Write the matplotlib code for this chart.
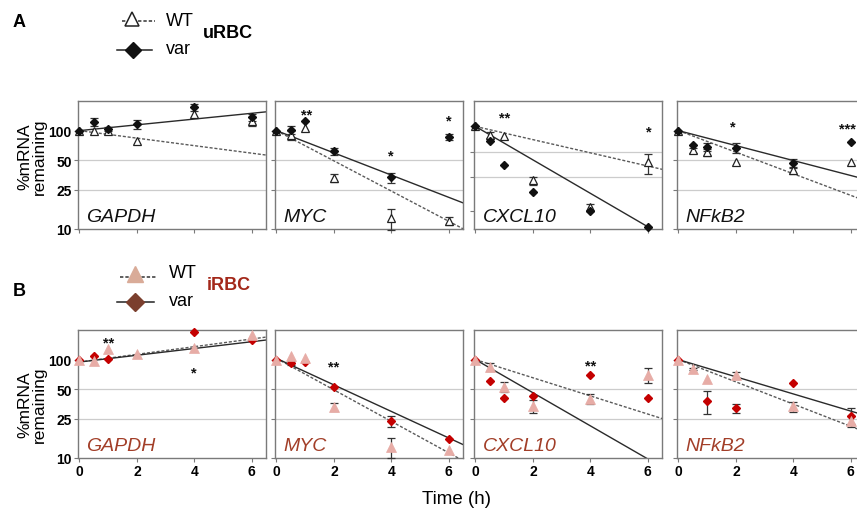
import numpy as np
import matplotlib
matplotlib.use("Agg")
import matplotlib.pyplot as plt
from matplotlib.lines import Line2D
from matplotlib.ticker import NullLocator
from matplotlib import transforms as mtrans

plt.rcParams['font.family'] = ['Liberation Sans', 'DejaVu Sans']

W, H = 857, 510

# ------------------------------------------------------------------ data
genes = ["GAPDH", "MYC", "CXCL10", "NFkB2"]
time_h = [0, 0.5, 1, 2, 4, 6]
x_ticks = [0, 2, 4, 6]
y_ticks = [10, 25, 50, 100]
y_tick_labels = ["10", "25", "50", "100"]
grid_levels = [25, 50]

# ---- A : uRBC  (% mRNA remaining)
u_gapdh_wt = [100, 100, 98, 79, 148, 124]
u_gapdh_wt_err = [0, 0, 0, 0, 0, 12]
u_gapdh_var = [100, 123, 103, 117, 174, 137]
u_gapdh_var_err = [0, 11, 5, 12, 14, 12]

u_myc_wt = [100, 90, 106, 33, 12.8, 12.1]
u_myc_wt_err = [0, 10, 0, 3, 3, 1]
u_myc_var = [100, 102, 126, 62, 33.5, 87]
u_myc_var_err = [0, 10, 0, 5, 4, 6]

u_cxcl10_wt = [100, 79, 77, 23, 11, 37.6]
u_cxcl10_wt_err = [0, 7, 0, 2.5, 1, 10]
u_cxcl10_var = [100, 68, 35, 16.6, 9.9, 6.5]
u_cxcl10_var_err = [0, 0, 0, 0, 0, 0]

u_nfkb2_wt = [100, 63, 60, 48, 39.5, 48]
u_nfkb2_wt_err = [0, 4, 5, 0, 3, 0]
u_nfkb2_var = [100, 72, 68.5, 67, 47, 77]
u_nfkb2_var_err = [0, 0, 6, 8, 5, 0]

# fitted decay lines: value at 0 h and at 6 h, per gene
u_fit_wt_0h = [100, 100, 100, 100]
u_fit_wt_6h = [59, 12, 34, 22]
u_fit_var_0h = [100, 100, 100, 100]
u_fit_var_6h = [150, 21, 6.5, 35]
u_ylim_low = [10, 10, 6.1, 10]

u_gapdh_stars = []
u_myc_stars = [(1.05, 160, "**"), (4, 61, "*"), (6, 137, "*")]
u_cxcl10_stars = [(1.0, 142, "**"), (6.05, 97, "*")]
u_nfkb2_stars = [(1.9, 120, "*"), (5.9, 115, "***")]

# ---- B : iRBC
i_gapdh_wt = [100, 96, 127, 115, 132, 178]
i_gapdh_wt_err = [0, 0, 0, 0, 0, 0]
i_gapdh_var = [100, 110, 101, np.nan, 191, 158]
i_gapdh_var_err = [0, 0, 0, 0, 0, 0]

i_myc_wt = [100, 108, 105, 33, 13, 12.1]
i_myc_wt_err = [0, 0, 0, 3, 3, 0]
i_myc_var = [100, 92, 94, 53, 23.7, 15.7]
i_myc_var_err = [0, 4, 0, 0, 3, 0]

i_cxcl10_wt = [100, 85, 53, 34, 40, 70]
i_cxcl10_wt_err = [0, 8, 6, 5, 5, 12]
i_cxcl10_var = [100, 61, 41, 42.5, 70, 41]
i_cxcl10_var_err = [0, 0, 0, 0, 0, 0]

i_nfkb2_wt = [100, 80, 63, 69, 33.5, 23.6]
i_nfkb2_wt_err = [0, 2, 0, 6, 4, 3]
i_nfkb2_var = [100, np.nan, 38, 32, 58, 27]
i_nfkb2_var_err = [0, 0, 10, 3, 0, 5]

i_fit_wt_0h = [94.5, 103, 100, 100]
i_fit_wt_6h = [162, 11.3, 28, 21]
i_fit_var_0h = [94.5, 103, 100, 100]
i_fit_var_6h = [152, 16, 9.8, 30]
i_ylim_low = [10, 10, 10, 10]

i_gapdh_stars = [(1.0, 163, "**"), (4, 80, "*")]
i_myc_stars = [(2.0, 92, "**")]
i_cxcl10_stars = [(4.0, 94, "**")]
i_nfkb2_stars = []

# ------------------------------------------------------------------ build tables
rows = [
    dict(wt=[u_gapdh_wt, u_myc_wt, u_cxcl10_wt, u_nfkb2_wt],
         wt_err=[u_gapdh_wt_err, u_myc_wt_err, u_cxcl10_wt_err, u_nfkb2_wt_err],
         var=[u_gapdh_var, u_myc_var, u_cxcl10_var, u_nfkb2_var],
         var_err=[u_gapdh_var_err, u_myc_var_err, u_cxcl10_var_err, u_nfkb2_var_err],
         fw0=u_fit_wt_0h, fw6=u_fit_wt_6h, fv0=u_fit_var_0h, fv6=u_fit_var_6h,
         ylow=u_ylim_low,
         stars=[u_gapdh_stars, u_myc_stars, u_cxcl10_stars, u_nfkb2_stars]),
    dict(wt=[i_gapdh_wt, i_myc_wt, i_cxcl10_wt, i_nfkb2_wt],
         wt_err=[i_gapdh_wt_err, i_myc_wt_err, i_cxcl10_wt_err, i_nfkb2_wt_err],
         var=[i_gapdh_var, i_myc_var, i_cxcl10_var, i_nfkb2_var],
         var_err=[i_gapdh_var_err, i_myc_var_err, i_cxcl10_var_err, i_nfkb2_var_err],
         fw0=i_fit_wt_0h, fw6=i_fit_wt_6h, fv0=i_fit_var_0h, fv6=i_fit_var_6h,
         ylow=i_ylim_low,
         stars=[i_gapdh_stars, i_myc_stars, i_cxcl10_stars, i_nfkb2_stars]),
]

# ------------------------------------------------------------------ style
col_left = [78, 275, 474, 677]
ax_w = 188
row_top = [102, 331]
row_bottom = [230, 459]

A_WT = dict(marker='^', ms=6.0, mfc='white', mec='#222222', mew=0.9, ls='none')
A_VAR = dict(marker='D', ms=3.9, mfc='#111111', mec='#111111', ls='none')
B_WT = dict(marker='^', ms=7.0, mfc='#e7aca6', mec='#e7aca6', mew=0.5, ls='none')
B_VAR = dict(marker='D', ms=4.0, mfc='#c40000', mec='#c40000', ls='none')
gene_color = ['#111111', '#a23e28']
spine_col = '#7a7a7a'

fig = plt.figure(figsize=(W / 100, H / 100), dpi=100)
t_arr = np.array(time_h, dtype=float)
t_line = np.linspace(0, 6.6, 100)


def fx(x):
    return x / W


def fy(y):
    return 1 - y / H


for r, rd in enumerate(rows):
    for c, gene in enumerate(genes):
        ax = fig.add_axes([fx(col_left[c]), fy(row_bottom[r]), ax_w / W,
                           (row_bottom[r] - row_top[r]) / H])
        ax.set_yscale('log')
        ax.set_xlim(-0.05, 6.5)
        ax.set_ylim(rd['ylow'][c], 200)
        for g in grid_levels:
            ax.axhline(g, color='#cccccc', lw=0.9, zorder=0)
        for sp in ax.spines.values():
            sp.set_color(spine_col)
            sp.set_linewidth(1.0)
        ax.set_yticks(y_ticks)
        ax.yaxis.set_minor_locator(NullLocator())
        ax.set_xticks(x_ticks)
        ax.tick_params(direction='out', length=3, width=0.8, color=spine_col,
                       labelsize=10, pad=1.5)
        if c == 0:
            ax.set_yticklabels(y_tick_labels, fontweight='bold')
        else:
            ax.set_yticklabels([])
        if r == 1:
            ax.set_xticklabels([str(v) for v in x_ticks], fontweight='bold')
        else:
            ax.set_xticklabels([])

        # fitted lines
        yw = rd['fw0'][c] * (rd['fw6'][c] / rd['fw0'][c]) ** (t_line / 6)
        yv = rd['fv0'][c] * (rd['fv6'][c] / rd['fv0'][c]) ** (t_line / 6)
        ax.plot(t_line, yw, ls=(0, (2.2, 1.3)), color='#5a5a5a', lw=1.0, zorder=2)
        ax.plot(t_line, yv, ls='-', color='#2a2a2a', lw=1.0, zorder=2)

        wt = np.array(rd['wt'][c], dtype=float)
        var = np.array(rd['var'][c], dtype=float)
        for vals, errs in ((wt, rd['wt_err'][c]), (var, rd['var_err'][c])):
            e = np.array(errs, dtype=float)
            m = e > 0
            if m.any():
                ax.errorbar(t_arr[m], vals[m], yerr=e[m], fmt='none',
                            ecolor='#333333', elinewidth=0.9, capsize=3,
                            capthick=0.9, zorder=3, clip_on=False)
        if r == 0:
            ax.plot(t_arr, wt, zorder=4, clip_on=False, **A_WT)
            ax.plot(t_arr, var, zorder=5, clip_on=False, **A_VAR)
        else:
            ax.plot(t_arr, var, zorder=4, clip_on=False, **B_VAR)
            ax.plot(t_arr, wt, zorder=5, clip_on=False, **B_WT)

        off = mtrans.offset_copy(ax.transData, fig=fig, y=-5.5, units='points')
        for (ts, lv, txt) in rd['stars'][c]:
            ax.text(ts, lv, txt, transform=off, ha='center', va='baseline',
                    fontsize=10.5, fontweight='bold', color='#111111', zorder=6)

        ax.text(0.045, 0.065, gene, transform=ax.transAxes, style='italic',
                fontsize=14, color=gene_color[r], ha='left', va='baseline')

# y-axis labels
for yc in (157, 405):
    fig.text(fx(32), fy(yc), "%mRNA\nremaining", rotation=90, ha='center',
             va='center', fontsize=12.5, linespacing=1.0, multialignment='center')

fig.text(fx(456), fy(500), "Time (h)", ha='center', va='center', fontsize=13.5)

# panel letters
fig.text(fx(13), fy(27), "A", fontsize=13, fontweight='bold', ha='left', va='baseline')
fig.text(fx(13), fy(296), "B", fontsize=13, fontweight='bold', ha='left', va='baseline')


def leg_line(x0, x1, y, **kw):
    fig.add_artist(Line2D([fx(x0), fx(x1)], [fy(y), fy(y)], transform=fig.transFigure, **kw))


def leg_mark(x, y, **kw):
    fig.add_artist(Line2D([fx(x)], [fy(y)], transform=fig.transFigure, ls='none', **kw))


# legend A
leg_line(122, 155, 22, ls=(0, (2.2, 1.3)), color='#333333', lw=1.1)
leg_mark(132, 20, marker='^', ms=10, mfc='white', mec='#222222', mew=1.1)
fig.text(fx(166), fy(22), "WT", fontsize=13, ha='left', va='center')
leg_line(117, 152, 50.5, ls='-', color='#222222', lw=1.1)
leg_mark(133, 50.5, marker='D', ms=8, mfc='#111111', mec='#111111')
fig.text(fx(166), fy(50), "var", fontsize=13, ha='left', va='center')
fig.text(fx(203), fy(33), "uRBC", fontsize=13, fontweight='bold', ha='left', va='center')

# legend B
leg_line(120, 157, 278, ls=(0, (2.2, 1.3)), color='#333333', lw=1.1)
leg_mark(135, 275, marker='^', ms=11, mfc='#d9ab98', mec='#d9ab98')
fig.text(fx(169), fy(274), "WT", fontsize=13, ha='left', va='center')
leg_line(117, 154, 303, ls='-', color='#222222', lw=1.1)
leg_mark(135, 303, marker='D', ms=9, mfc='#7b3f2e', mec='#7b3f2e')
fig.text(fx(169), fy(301), "var", fontsize=13, ha='left', va='center')
fig.text(fx(207), fy(286), "iRBC", fontsize=13, fontweight='bold', color='#a3281a',
         ha='left', va='center')

fig.savefig("out.png", dpi=100)
